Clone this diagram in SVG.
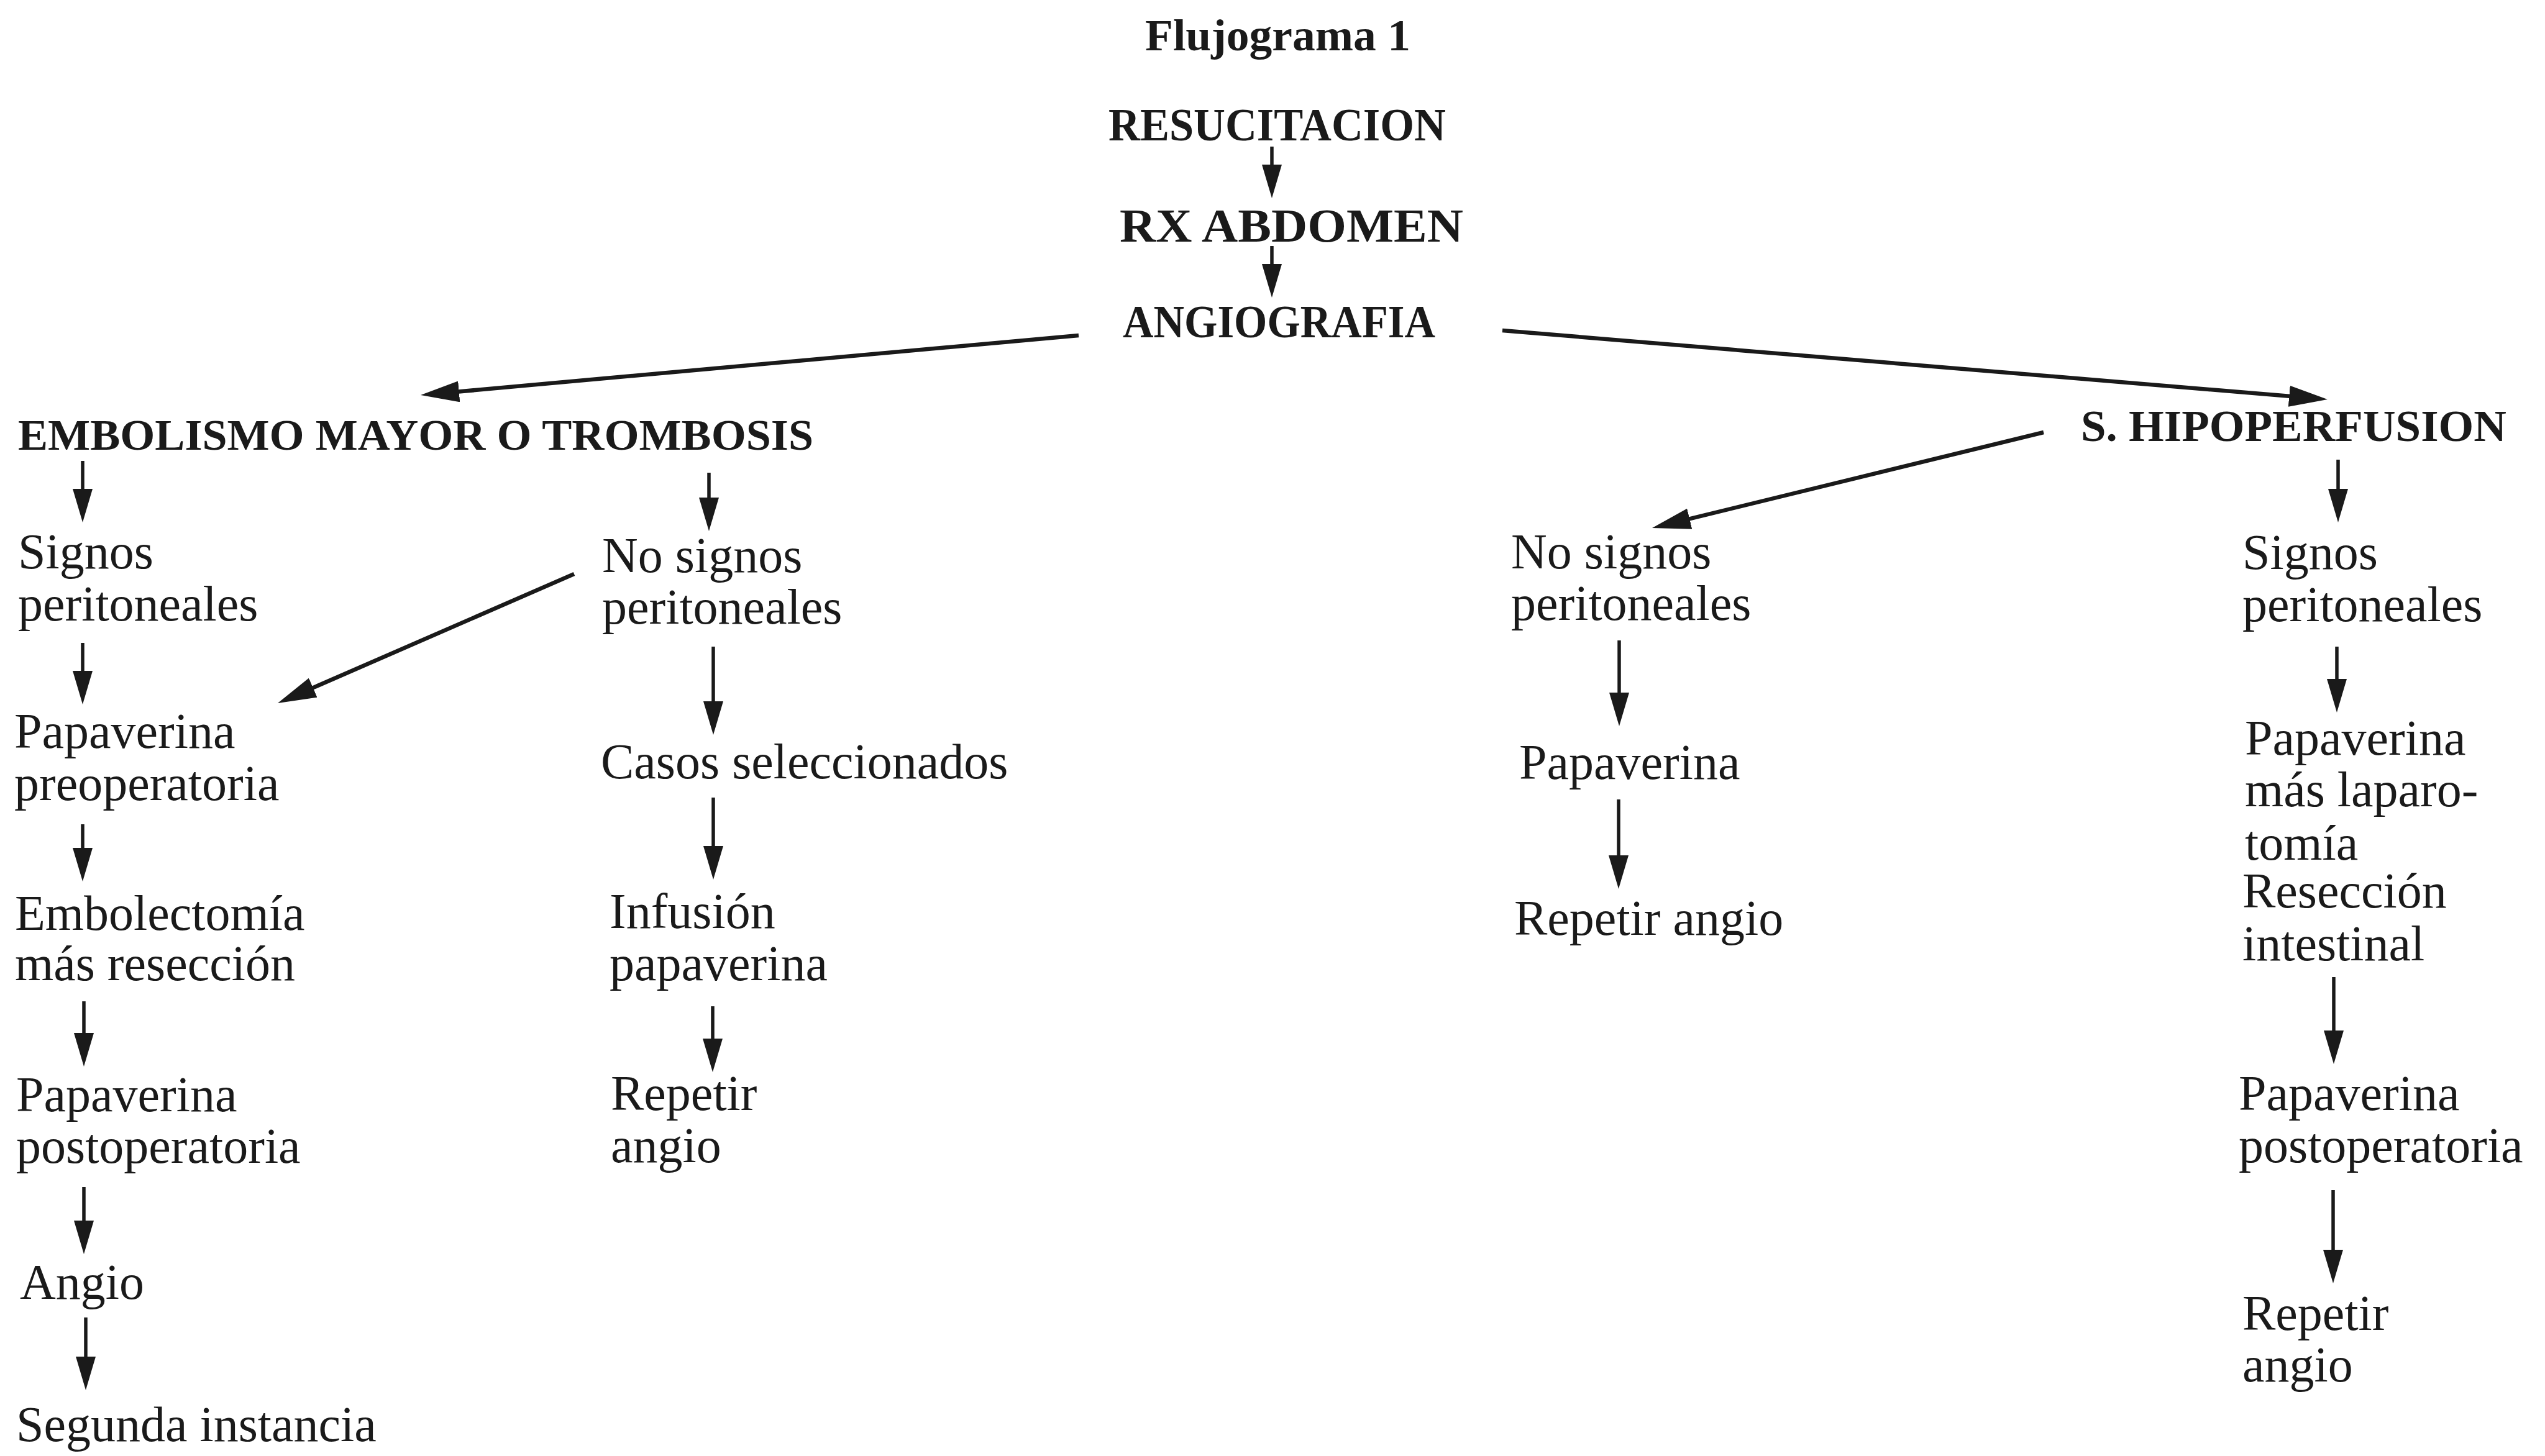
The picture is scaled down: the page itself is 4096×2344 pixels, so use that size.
<svg xmlns="http://www.w3.org/2000/svg" width="4096" height="2344" viewBox="0 0 4096 2344">
<style>
.t{font-family:"Liberation Serif","Times New Roman",serif;font-size:80px;fill:#1a1a1a}
.b{font-family:"Liberation Serif","Times New Roman",serif;font-weight:bold;fill:#1a1a1a}
.c{fill:none;stroke:#1a1a1a;stroke-width:5.5}
.cl{fill:none;stroke:#1a1a1a;stroke-width:6.5}
</style>
<defs>
<marker id="ah" markerUnits="userSpaceOnUse" markerWidth="54" markerHeight="32" viewBox="0 0 54 32" refX="7" refY="16" orient="auto">
<path d="M0,0 L54,16 L0,32 Z" fill="#1a1a1a"/>
</marker>
<marker id="ahL" markerUnits="userSpaceOnUse" markerWidth="62" markerHeight="34" viewBox="0 0 62 34" refX="12" refY="17" orient="auto">
<path d="M0,0 L62,17 L0,34 Z" fill="#1a1a1a"/>
</marker>
</defs>
<rect width="4096" height="2344" fill="#ffffff"/>

<g id="title"><text class="b" x="1843" y="81" font-size="72" textLength="427" lengthAdjust="spacingAndGlyphs">Flujograma 1</text></g>
<g id="resucitacion"><text class="b" x="1784" y="226" font-size="75" textLength="543" lengthAdjust="spacingAndGlyphs">RESUCITACION</text></g>
<g id="rx-abdomen"><text class="b" x="1802" y="389" font-size="77" textLength="553" lengthAdjust="spacingAndGlyphs">RX ABDOMEN</text></g>
<g id="angiografia"><text class="b" x="1807" y="543" font-size="75" textLength="503" lengthAdjust="spacingAndGlyphs">ANGIOGRAFIA</text></g>
<g id="embolismo"><text class="b" x="29" y="724" font-size="70" textLength="1280" lengthAdjust="spacingAndGlyphs">EMBOLISMO MAYOR O TROMBOSIS</text></g>
<g id="hipoperfusion"><text class="b" x="3349" y="710" font-size="72" textLength="685" lengthAdjust="spacingAndGlyphs">S. HIPOPERFUSION</text></g>

<g id="emb-signos"><text class="t" x="29" y="915">Signos</text><text class="t" x="29" y="999">peritoneales</text></g>
<g id="emb-pap-pre"><text class="t" x="23" y="1204">Papaverina</text><text class="t" x="23" y="1288">preoperatoria</text></g>
<g id="emb-embolectomia"><text class="t" x="24" y="1497">Embolectomía</text><text class="t" x="24" y="1578">más resección</text></g>
<g id="emb-pap-post"><text class="t" x="26" y="1789">Papaverina</text><text class="t" x="26" y="1872">postoperatoria</text></g>
<g id="emb-angio"><text class="t" x="32" y="2091">Angio</text></g>
<g id="emb-segunda"><text class="t" x="26" y="2320">Segunda instancia</text></g>

<g id="emb-nosignos"><text class="t" x="969" y="921">No signos</text><text class="t" x="969" y="1004">peritoneales</text></g>
<g id="emb-casos"><text class="t" x="967" y="1253">Casos seleccionados</text></g>
<g id="emb-infusion"><text class="t" x="981" y="1494">Infusión</text><text class="t" x="981" y="1578">papaverina</text></g>
<g id="emb-repetir"><text class="t" x="983" y="1787">Repetir</text><text class="t" x="983" y="1871">angio</text></g>

<g id="hip-nosignos"><text class="t" x="2432" y="915">No signos</text><text class="t" x="2432" y="998">peritoneales</text></g>
<g id="hip-pap"><text class="t" x="2445" y="1254">Papaverina</text></g>
<g id="hip-repetir"><text class="t" x="2437" y="1505">Repetir angio</text></g>

<g id="hip-signos"><text class="t" x="3609" y="916">Signos</text><text class="t" x="3609" y="1000">peritoneales</text></g>
<g id="hip-pap-lap"><text class="t" x="3613" y="1215">Papaverina</text><text class="t" x="3613" y="1298">más laparo-</text><text class="t" x="3613" y="1384">tomía</text><text class="t" x="3609" y="1461">Resección</text><text class="t" x="3609" y="1546">intestinal</text></g>
<g id="hip-pap-post"><text class="t" x="3603" y="1787">Papaverina</text><text class="t" x="3603" y="1871">postoperatoria</text></g>
<g id="hip-repetir2"><text class="t" x="3609" y="2141">Repetir</text><text class="t" x="3609" y="2224">angio</text></g>

<g id="connectors">
<path class="c" d="M2047,236 V272" marker-end="url(#ah)"/>
<path class="c" d="M2047,396 V432" marker-end="url(#ah)"/>
<path class="cl" d="M1736,540 L726.8,631.5" marker-end="url(#ahL)"/>
<path class="cl" d="M2418,532 L3696.2,638.8" marker-end="url(#ahL)"/>
<path class="c" d="M133,742 V794" marker-end="url(#ah)"/>
<path class="c" d="M1141,761 V808" marker-end="url(#ah)"/>
<path class="cl" d="M3289,696 L2707.6,838.1" marker-end="url(#ahL)"/>
<path class="c" d="M3763,740 V794" marker-end="url(#ah)"/>
<path class="c" d="M133,1035 V1087" marker-end="url(#ah)"/>
<path class="cl" d="M924,924 L492.8,1112" marker-end="url(#ahL)"/>
<path class="c" d="M133,1327 V1372" marker-end="url(#ah)"/>
<path class="c" d="M135,1612 V1670" marker-end="url(#ah)"/>
<path class="c" d="M135,1911 V1972" marker-end="url(#ah)"/>
<path class="c" d="M138,2121 V2191" marker-end="url(#ah)"/>
<path class="c" d="M1148,1041 V1136" marker-end="url(#ah)"/>
<path class="c" d="M1148,1284 V1369" marker-end="url(#ah)"/>
<path class="c" d="M1147,1620 V1679" marker-end="url(#ah)"/>
<path class="c" d="M2606,1031 V1122" marker-end="url(#ah)"/>
<path class="c" d="M2605,1287 V1384" marker-end="url(#ah)"/>
<path class="c" d="M3761,1041 V1100" marker-end="url(#ah)"/>
<path class="c" d="M3756,1573 V1666" marker-end="url(#ah)"/>
<path class="c" d="M3755,1916 V2019" marker-end="url(#ah)"/>
</g>
</svg>
